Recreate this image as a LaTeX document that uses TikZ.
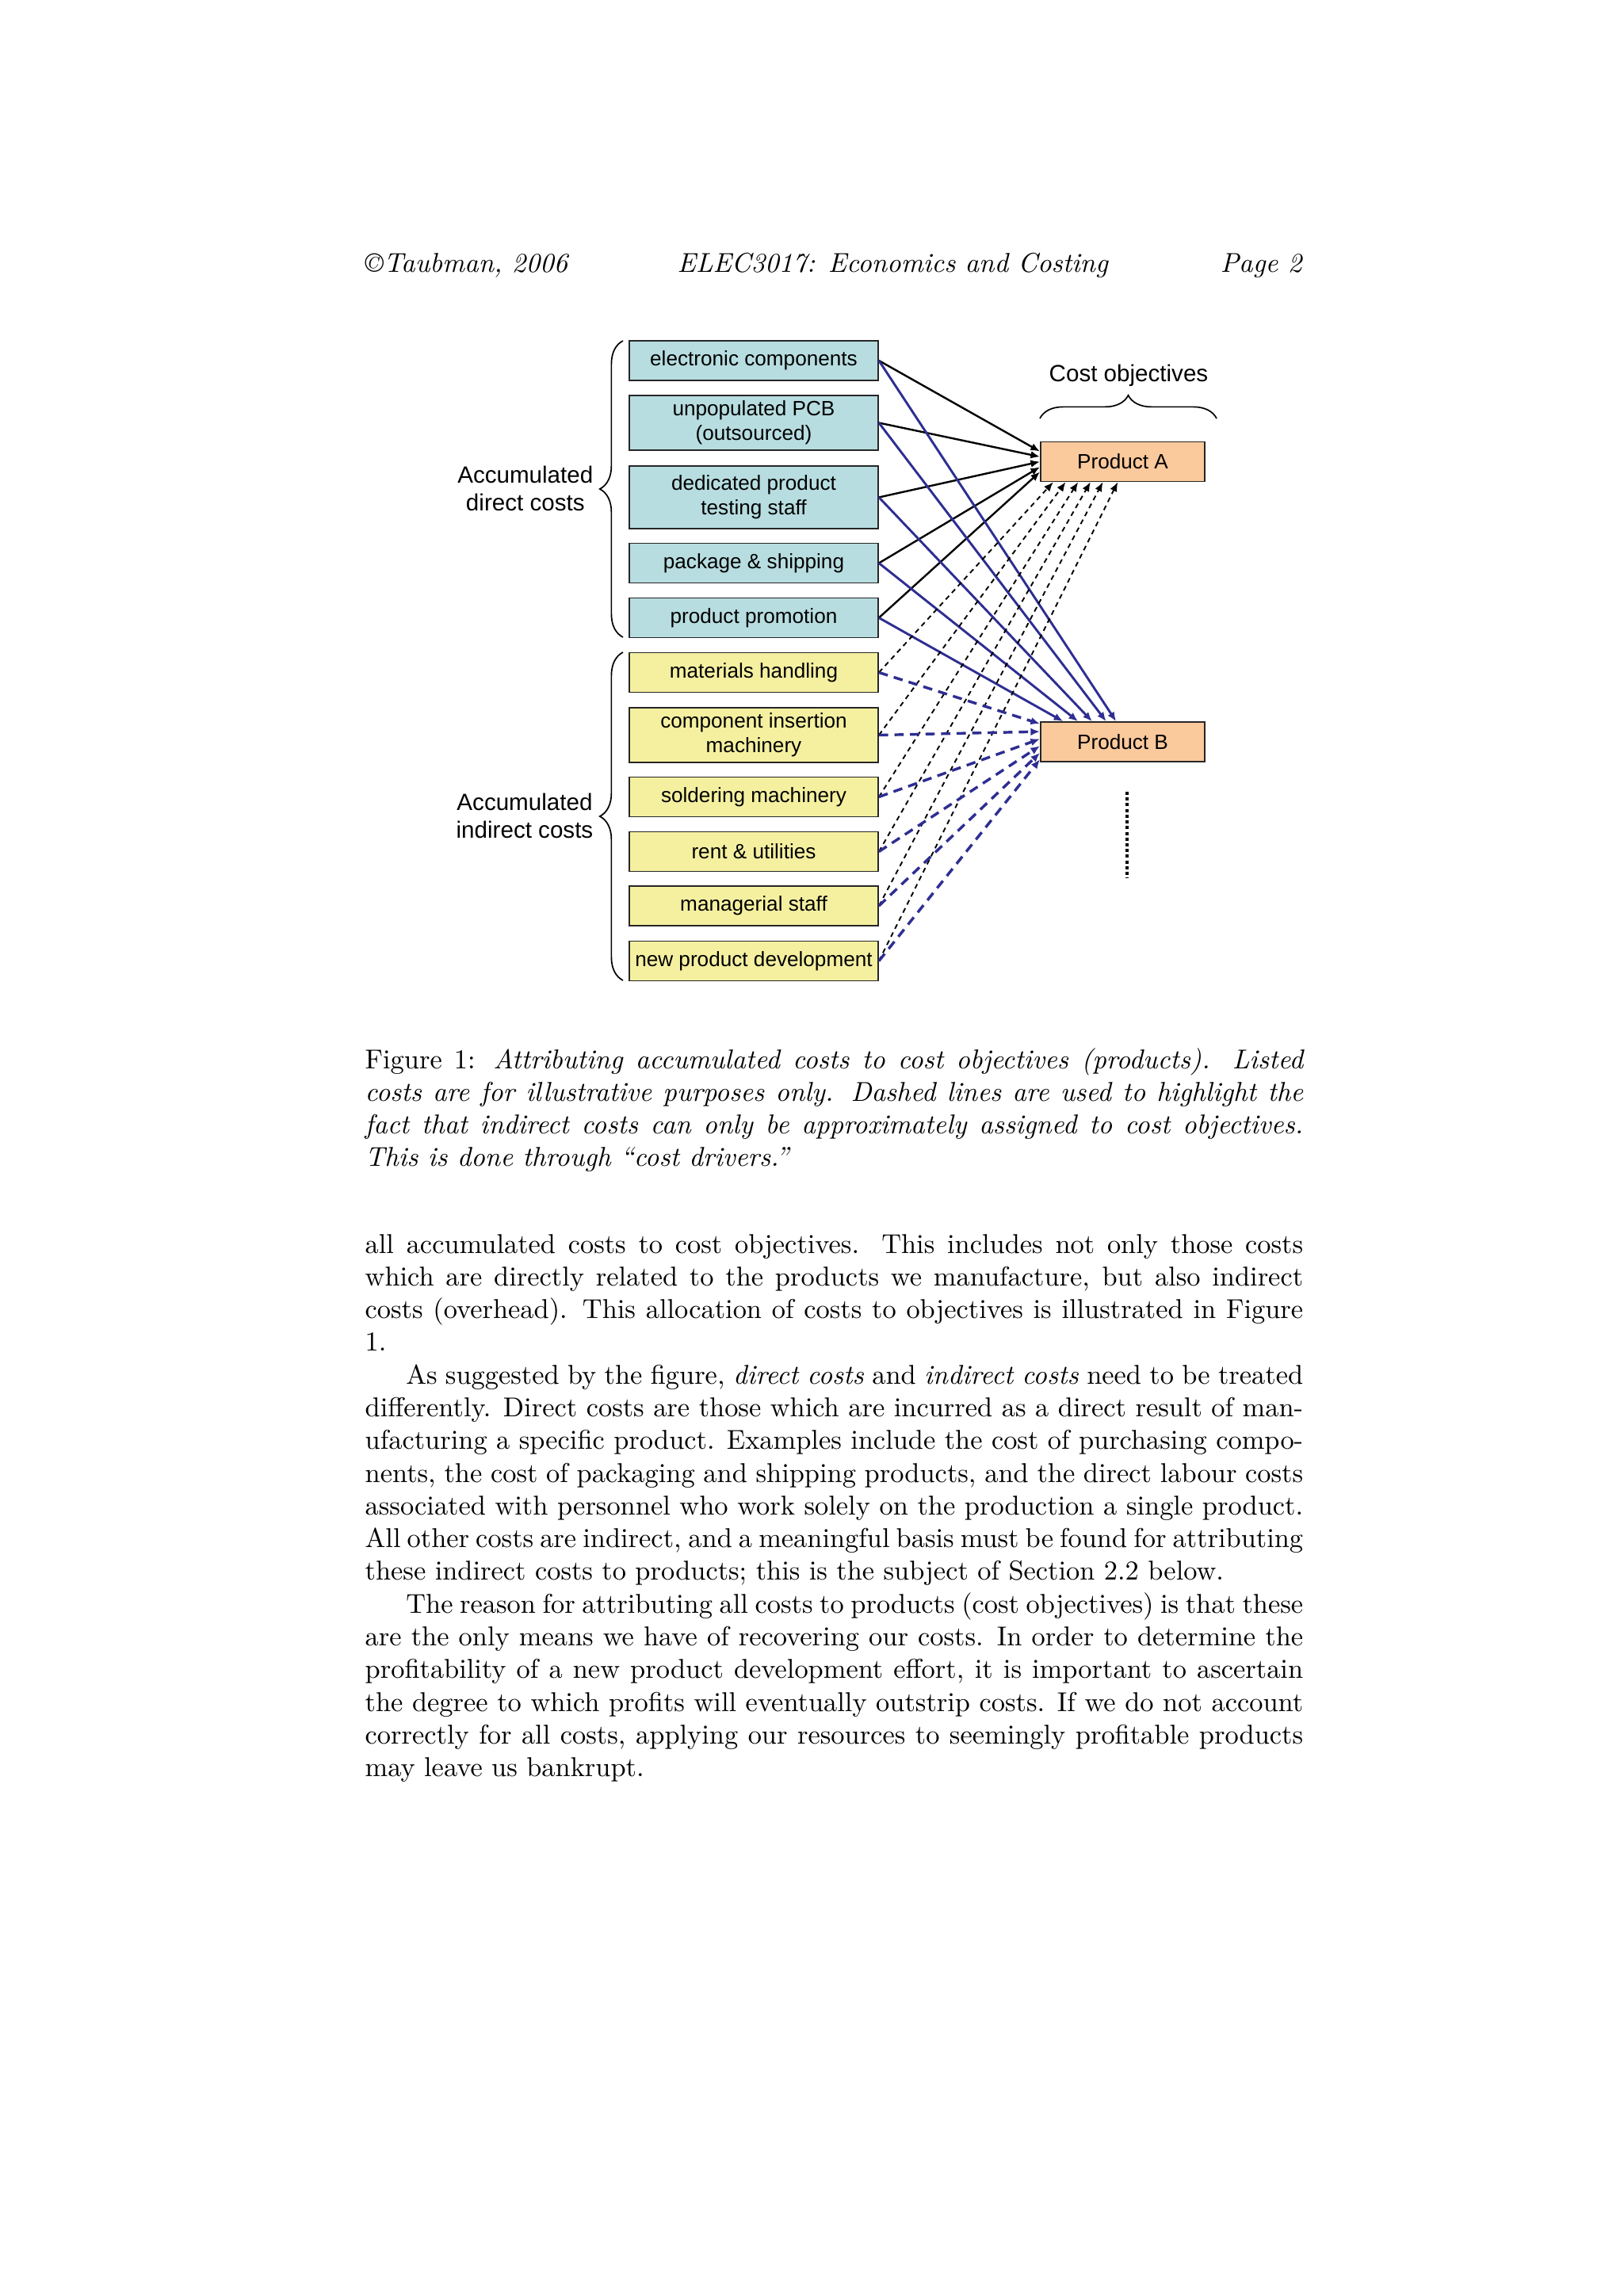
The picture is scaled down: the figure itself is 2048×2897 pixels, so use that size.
\documentclass[tikz,border=0pt]{standalone}
\usepackage{fontspec}
\newfontfamily\visfont{Liberation Sans}
\usetikzlibrary{calc,arrows.meta,decorations.pathreplacing}

\definecolor{directfill}{RGB}{183,221,224}
\definecolor{indirectfill}{RGB}{245,240,160}
\definecolor{prodfill}{RGB}{250,201,156}
\definecolor{costblue}{RGB}{46,46,146}

\tikzset{
  costbox/.style={draw=black!85, line width=0.5pt, fill=directfill, minimum width=91.3pt,
    minimum height=14.5pt, inner sep=0.5pt, align=center,
    font=\visfont\fontsize{7.6}{9}\selectfont},
  indbox/.style={costbox, fill=indirectfill},
  prodbox/.style={costbox, fill=prodfill, minimum width=60.2pt},
  grouplabel/.style={inner sep=0pt, align=center, font=\visfont\fontsize{8.6}{10.2}\selectfont},
  tobj/.style={line width=0.7pt, -{Latex[length=3.4pt,width=2.8pt]}},
  tobjb/.style={tobj, draw=costblue, line width=0.85pt},
  apprx/.style={tobj, line width=0.55pt, dash pattern=on 1.8pt off 1.5pt},
  apprxb/.style={tobj, draw=costblue, line width=1pt, dash pattern=on 3.4pt off 2.3pt},
  groupbrace/.style={decorate, decoration={brace, amplitude=8.5pt}, line width=0.5pt},
  pagetext/.style={inner sep=0pt, font=\fontsize{10}{12}\selectfont},
  paratext/.style={pagetext, text width=344pt, align=justify}
}

\begin{document}
\begin{tikzpicture}[x=0.29066pt,y=-0.29066pt]
\useasboundingbox (0,0) rectangle (2048,2897);

% running head
\node[pagetext, anchor=base west] (headl) at (460,343) {\itshape\copyright Taubman, 2006};
\node[pagetext, anchor=base west] (headc) at (854,343) {\itshape ELEC3017: Economics and Costing};
\node[pagetext, anchor=base east] (headr) at (1643,343) {\itshape Page 2};

% direct costs
\node[costbox] (ec)  at (951,455)   {electronic components};
\node[costbox, minimum height=20pt] (pcb) at (951,533.5) {unpopulated PCB\\(outsourced)};
\node[costbox, minimum height=23pt] (dps) at (951,627.5) {dedicated product\\testing staff};
\node[costbox] (pns) at (951,710.5) {package \& shipping};
\node[costbox] (pp)  at (951,779.5) {product promotion};

% indirect costs
\node[indbox] (mh)  at (951,848.5)  {materials handling};
\node[indbox, minimum height=20pt] (cim) at (951,927.5) {component insertion\\machinery};
\node[indbox] (sm)  at (951,1005.5) {soldering machinery};
\node[indbox] (ru)  at (951,1074.5) {rent \& utilities};
\node[indbox] (ms)  at (951,1143)   {managerial staff};
\node[indbox] (npd) at (951,1212.5) {new product development};

% cost objectives
\node[prodbox] (pa) at (1416.5,582.5) {Product A};
\node[prodbox] (pb) at (1416.5,936)   {Product B};
\node[grouplabel, anchor=base] (cobj) at (1424,481) {Cost objectives};
\draw[groupbrace] (1312,528) -- (1535,528);

\draw[groupbrace] (786,804) -- (786,430);
\draw[groupbrace] (786,1237) -- (786,823);
\node[grouplabel, anchor=east] (dlab) at (749,616) {Accumulated\\direct costs};
\node[grouplabel, anchor=east] (ilab) at (749,1029) {Accumulated\\indirect costs};

% direct costs go straight to their product
\foreach \s/\f in {ec/0.25, pcb/0.38, dps/0.5, pns/0.63, pp/0.75}
  \draw[tobj] (\s.east) -- ($(pa.north west)!\f!(pa.south west)$);
\foreach \s/\f in {ec/0.46, pcb/0.40, dps/0.315, pns/0.23, pp/0.14}
  \draw[tobjb] (\s.east) -- ($(pb.north west)!\f!(pb.north east)$);

% indirect costs only approximately assigned
\foreach \s/\f in {mh/0.08, cim/0.155, sm/0.23, ru/0.305, ms/0.38, npd/0.47}
  \draw[apprx] (\s.east) -- ($(pa.south west)!\f!(pa.south east)$);
\foreach \s/\f in {mh/0.06, cim/0.25, sm/0.43, ru/0.6, ms/0.77, npd/0.93}
  \draw[apprxb] (\s.east) -- ($(pb.north west)!\f!(pb.south west)$);

\draw[line width=1.15pt, dash pattern=on 1.15pt off 0.95pt] (1422,999) -- (1422,1108);

% caption
\node[paratext, anchor=base west] (capt) at (460,1348) {Figure 1: \textit{Attributing accumulated costs to cost objectives (products). Listed costs are for illustrative purposes only. Dashed lines are used to highlight the fact that indirect costs can only be approximately assigned to cost objectives. This is done through ``cost drivers.''}};

% body text
\node[paratext, anchor=base west] (body) at (460,1581) {\parindent=15pt\noindent all accumulated costs to cost objectives. This includes not only those costs which are directly related to the products we manufacture, but also indirect costs (overhead). This allocation of costs to objectives is illustrated in Figure 1.\par
As suggested by the figure, \emph{direct costs} and \emph{indirect costs} need to be treated differently. Direct costs are those which are incurred as a direct result of manufacturing a specific product. Examples include the cost of purchasing components, the cost of packaging and shipping products, and the direct labour costs associated with personnel who work solely on the production a single product. All other costs are indirect, and a meaningful basis must be found for attributing these indirect costs to products; this is the subject of Section 2.2 below.\par
The reason for attributing all costs to products (cost objectives) is that these are the only means we have of recovering our costs. In order to determine the profitability of a new product development effort, it is important to ascertain the degree to which profits will eventually outstrip costs. If we do not account correctly for all costs, applying our resources to seemingly profitable products may leave us bankrupt.};
\end{tikzpicture}
\end{document}
